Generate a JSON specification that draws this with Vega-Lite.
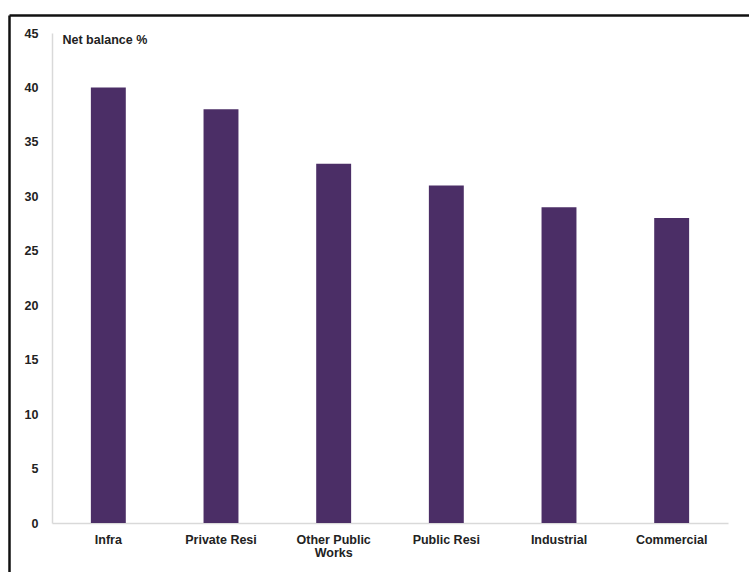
{
  "$schema": "https://vega.github.io/schema/vega-lite/v6.json",
  "width": 676,
  "height": 490,
  "autosize": "none",
  "padding": {"left": 52, "top": 33, "right": 21, "bottom": 49},
  "background": "white",
  "config": {
    "view": {"stroke": null},
    "font": "Liberation Sans",
    "axis": {"labelFont": "Liberation Sans", "labelFontWeight": "bold", "labelColor": "#222222", "labelFontSize": 12.5, "grid": false, "ticks": false, "domainColor": "#d9d9d9", "domainWidth": 1.5}
  },
  "datasets": {
    "bars": [
      {"sector": "Infra", "value": 40},
      {"sector": "Private Resi", "value": 38},
      {"sector": "Other Public Works", "value": 33},
      {"sector": "Public Resi", "value": 31},
      {"sector": "Industrial", "value": 29},
      {"sector": "Commercial", "value": 28}
    ],
    "frame": [
      {"fx": 0, "fy": 0}
    ]
  },
  "resolve": {"scale": {"x": "independent", "y": "independent"}, "axis": {"x": "independent", "y": "independent"}},
  "layer": [
    {
      "data": {"name": "bars"},
      "mark": {"type": "bar", "color": "#4b2e66"},
      "encoding": {
        "x": {
          "field": "sector", "type": "nominal", "sort": null,
          "scale": {"paddingInner": 0.69, "paddingOuter": 0.345},
          "axis": {"title": null, "labelAngle": 0, "labelPadding": 10, "labelBaseline": "top",
            "labelExpr": "datum.value == 'Other Public Works' ? ['Other Public', 'Works'] : datum.value", "labelLineHeight": 13}
        },
        "y": {
          "field": "value", "type": "quantitative",
          "scale": {"domain": [0, 45], "nice": false},
          "axis": {"values": [0,5,10,15,20,25,30,35,40,45], "labelPadding": 14, "title": "Net balance %", "titleAngle": 0, "titleAlign": "left", "titleBaseline": "middle", "titleX": 10, "titleY": 6, "titleFont": "Liberation Sans", "titleFontWeight": "bold", "titleFontSize": 12.5, "titleColor": "#222222"}
        }
      }
    },
    {
      "data": {"name": "frame"},
      "mark": {"type": "point", "opacity": 0},
      "encoding": {
        "x": {
          "field": "fx", "type": "quantitative",
          "scale": {"domain": [0, 1], "range": [-43, 710], "nice": false, "zero": false},
          "axis": {"orient": "top", "offset": 18, "labels": false, "ticks": false, "title": null, "domainColor": "#111111", "domainWidth": 2.5}
        },
        "y": {
          "field": "fy", "type": "quantitative",
          "scale": {"domain": [0, 1], "range": [550, -18], "nice": false, "zero": false},
          "axis": {"orient": "left", "offset": 43, "labels": false, "ticks": false, "title": null, "domainColor": "#111111", "domainWidth": 2.5}
        }
      }
    }
  ]
}
